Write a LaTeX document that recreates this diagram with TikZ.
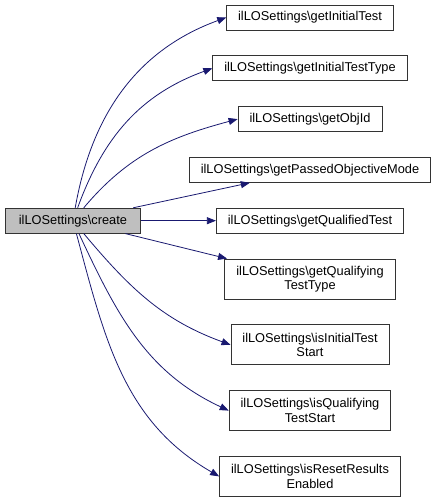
\documentclass[tikz,border=0pt]{standalone}
\usepackage{fontspec}
\setmainfont{Liberation Sans}
\usepackage{tikz}
\usetikzlibrary{arrows.meta,positioning}
\definecolor{edgeblue}{HTML}{191970}
\tikzset{
  fn/.style={draw=black!80, line width=0.8pt, rectangle, minimum height=25pt, inner xsep=11.5pt, font=\fontsize{12.8}{14.5}\selectfont},
  fn2/.style={fn, minimum height=40pt, align=center},
  caller/.style={fn, fill=black!25, inner xsep=13.5pt}
}

\begin{document}
\begin{tikzpicture}[node distance=25pt,auto,x=1pt,y=1pt]
\useasboundingbox (0,0) rectangle (439,-502);
\node[fn]		(m_1)	at (310,-17.5)			{ilLOSettings\textbackslash getInitialTest};
\node[fn]		(m_2)	[below=of m_1]			{ilLOSettings\textbackslash getInitialTestType};
\node[fn]		(m_3)	[below=of m_2]			{ilLOSettings\textbackslash getObjId};
\node[fn]		(m_4)	[below=of m_3]			{ilLOSettings\textbackslash getPassedObjectiveMode};
\node[fn]		(m_5)	[below=of m_4]			{ilLOSettings\textbackslash getQualifiedTest};
\node[fn2]		(m_6)	[below=of m_5]			{ilLOSettings\textbackslash getQualifying\\TestType};
\node[fn2]		(m_7)	[below=of m_6]			{ilLOSettings\textbackslash isInitialTest\\Start};
\node[fn2]		(m_8)	[below=of m_7]			{ilLOSettings\textbackslash isQualifying\\TestStart};
\node[fn2]		(m_9)	[below=of m_8]			{ilLOSettings\textbackslash isResetResults\\Enabled};
\node[caller]	(c_0)	[left=75pt of m_5]		{ilLOSettings\textbackslash create};
\path[-{Triangle[length=9pt,width=7pt]}, edgeblue, line width=0.8pt]
(c_0)	edge[out=80, in=200]		(m_1.west)
		edge[out=70, in=200]		(m_2.west)
		edge[out=50, in=195]		(m_3.west)
		edge						(m_4)
		edge						(m_5)
		edge						(m_6)
		edge[out=-50, in=160]		(m_7.west)
		edge[out=-65, in=155]		(m_8.west)
		edge[out=-75, in=150]		(m_9.west)
;
\end{tikzpicture}
\end{document}
